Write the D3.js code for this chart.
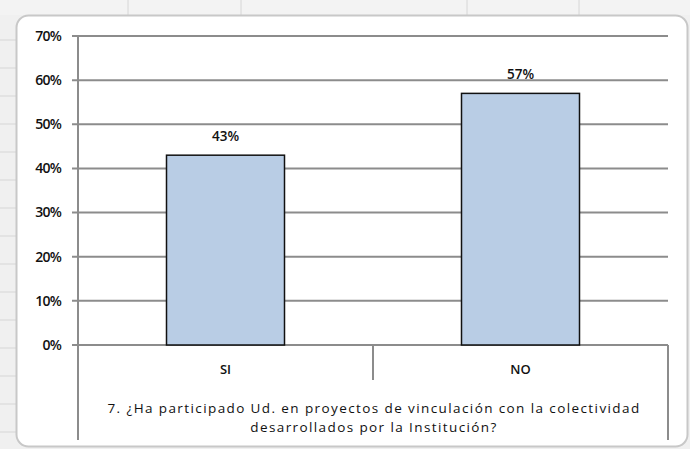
<!DOCTYPE html>
<html><head><meta charset="utf-8">
<script src="https://cdn.jsdelivr.net/npm/d3@7"></script>
<style>body{margin:0;background:#fff}svg{display:block}text{font-family:"Open Sans","Liberation Sans",sans-serif;fill:#111}</style>
</head><body>
<script>
const categories = ["SI", "NO"];
const values = [0.43, 0.57];
const tickValues = [0, 0.1, 0.2, 0.3, 0.4, 0.5, 0.6, 0.7];
const titleLines = ["7. ¿Ha participado Ud. en proyectos de vinculación con la colectividad", "desarrollados por la Institución?"];

const W = 690, H = 449;
const svg = d3.select("body").append("svg").attr("width", W).attr("height", H);

// spreadsheet background
svg.append("rect").attr("width", W).attr("height", H).attr("fill", "#f0f0f0");
svg.append("rect").attr("x", 0).attr("y", 0).attr("width", W).attr("height", 15).attr("fill", "#f3f3f3");
[128, 241, 467, 579].forEach(x => svg.append("line").attr("x1", x).attr("x2", x).attr("y1", 0).attr("y2", 15).attr("stroke", "#d6d6d6"));
for (let y = 40; y < H; y += 28) svg.append("line").attr("x1", 0).attr("x2", 16).attr("y1", y).attr("y2", y).attr("stroke", "#d6d6d6");

// chart area
svg.append("rect").attr("x", 16.5).attr("y", 15.5).attr("width", 671).attr("height", 431).attr("rx", 12)
  .attr("fill", "#fff").attr("stroke", "#c8c8c8").attr("stroke-width", 2);

const x0 = 78, x1 = 668, yTop = 36, yBot = 345;
const y = d3.scaleLinear().domain([0, 0.7]).range([yBot, yTop]);
const x = d3.scaleBand().domain(categories).range([x0, x1]).paddingInner(0.6).paddingOuter(0.3);
const xb = d3.scaleBand().domain(categories).range([x0, x1]);

// gridlines
svg.append("g").selectAll("line").data(tickValues).join("line")
  .attr("x1", x0 - 6).attr("x2", x1).attr("y1", d => y(d)).attr("y2", d => y(d))
  .attr("stroke", "#8c8c8c").attr("stroke-width", 2);

// y axis labels
svg.append("g").selectAll("text").data(tickValues).join("text")
  .attr("x", 61).attr("y", d => y(d)).attr("dy", "0.35em").attr("text-anchor", "end")
  .attr("font-size", 14).attr("font-weight", 600).attr("letter-spacing", "-0.8px")
  .text(d => d3.format(".0%")(d));

// bars
svg.append("g").selectAll("rect").data(values).join("rect")
  .attr("x", (d, i) => x(categories[i])).attr("width", x.bandwidth())
  .attr("y", d => y(d)).attr("height", d => yBot - y(d))
  .attr("fill", "#b9cde5").attr("stroke", "#111").attr("stroke-width", 1.5);

// value labels
svg.append("g").selectAll("text").data(values).join("text")
  .attr("x", (d, i) => x(categories[i]) + x.bandwidth() / 2).attr("y", d => y(d) - 19)
  .attr("dy", "0.35em").attr("text-anchor", "middle").attr("font-size", 13.5).attr("font-weight", 600)
  .text(d => d3.format(".0%")(d));

// axes lines
const axisColor = "#8c8c8c";
svg.append("line").attr("x1", x0).attr("x2", x0).attr("y1", yTop).attr("y2", 440).attr("stroke", axisColor).attr("stroke-width", 2);
svg.append("line").attr("x1", x1).attr("x2", x1).attr("y1", yBot).attr("y2", 440).attr("stroke", axisColor).attr("stroke-width", 2);
svg.append("line").attr("x1", xb("NO")).attr("x2", xb("NO")).attr("y1", yBot).attr("y2", 380).attr("stroke", axisColor).attr("stroke-width", 2);

// category labels
svg.append("g").selectAll("text").data(categories).join("text")
  .attr("x", d => xb(d) + xb.bandwidth() / 2).attr("y", 369).attr("dy", "0.35em")
  .attr("text-anchor", "middle").attr("font-size", 13).attr("font-weight", 600).text(d => d);

// title lines
svg.append("g").selectAll("text").data(titleLines).join("text")
  .attr("x", 374).attr("y", (d, i) => 408 + i * 19).attr("dy", "0.35em")
  .attr("text-anchor", "middle").attr("font-size", 13.5).attr("font-weight", 500).attr("letter-spacing", "1.4px")
  .text(d => d);
</script>
</body></html>
